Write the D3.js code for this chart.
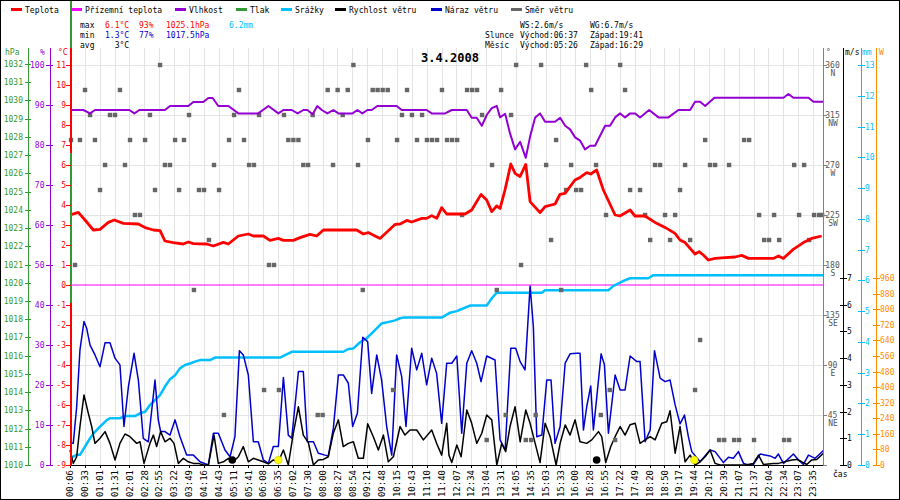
<!DOCTYPE html>
<html>
<head>
<meta charset="utf-8">
<script src="https://cdn.jsdelivr.net/npm/d3@7"></script>
<style>
  body { margin: 0; background: #fff; }
  svg text { font-family: "DejaVu Sans Mono", monospace; font-size: 8px; }
</style>
</head>
<body>
<div id="chart"></div>
<script>
// time labels on the x axis, one per slot (x is sample based, not clock based)
const timeLabels = ['00:06','00:33','01:01','01:31','02:01','02:28','02:55','03:22','03:49','04:16',
  '04:43','05:11','05:41','06:08','06:35','07:02','07:30','08:00','08:27','08:54','09:21','09:48',
  '10:15','10:43','11:10','11:40','12:07','12:34','13:04','13:31','14:05','14:35','15:03','15:33',
  '16:00','16:28','16:55','17:22','17:49','18:20','18:50','19:17','19:44','20:12','20:39','21:07',
  '21:37','22:04','22:34','23:07','23:35'];

// [slot, value]
const temperature = [[0,3.5],[0.56,3.63],[1.01,3.25],[1.57,2.75],[2.02,2.78],[2.58,3.13],[2.98,3.25],
  [3.59,3.08],[4.6,3.05],[5.05,2.87],[5.61,2.75],[6.06,2.72],[6.39,2.2],[6.95,2.12],[7.62,2.05],
  [7.96,2.15],[8.3,2.07],[9.2,2.05],[9.64,1.95],[10.32,2.13],[10.65,2.05],[11.33,2.45],[12,2.55],
  [12.34,2.45],[13.01,2.45],[13.46,2.23],[14.02,2.33],[14.36,2.23],[15.03,2.23],[15.48,2.37],
  [16.15,2.53],[16.6,2.45],[17.05,2.75],[19.29,2.75],[19.74,2.55],[20.07,2.62],[20.86,2.33],
  [21.87,3.03],[22.21,3.05],[22.66,3.23],[22.99,3.15],[23.67,3.33],[24,3.33],[24.34,3.47],
  [24.68,3.33],[25.01,3.87],[25.35,3.55],[26.58,3.55],[27.03,3.75],[27.66,4.53],[28.04,4.25],
  [28.38,3.67],[28.71,3.95],[28.94,3.83],[29.27,4.75],[29.66,6.05],[29.95,5.58],[30.28,5.42],
  [30.67,6.03],[30.96,4.17],[31.63,3.62],[31.97,3.92],[32.64,4.05],[32.97,4.53],[33.31,4.58],
  [33.98,5.25],[34.32,5.38],[34.77,5.62],[35.04,5.55],[35.44,5.75],[35.89,4.75],[36.68,3.5],
  [37.01,3.45],[37.69,3.75],[38.02,3.45],[38.69,3.45],[39.37,3.13],[40.04,2.88],[40.71,2.58],
  [41.05,2.25],[41.39,2.12],[42.06,1.55],[42.33,1.67],[42.62,1.5],[42.95,1.25],[43.41,1.33],
  [44.08,1.37],[44.75,1.4],[45.2,1.48],[45.65,1.33],[47.33,1.33],[47.67,1.45],[48,1.33],
  [48.67,1.78],[49.35,2.12],[49.91,2.33],[50.58,2.45]];

const groundTemp = [[0,0],[50.67,0]];

const humidity = [[0,88.75],[0.9,88.75],[1.35,87.9],[1.68,88.75],[3.99,88.75],[4.33,87.9],[4.67,88.75],
  [6.39,88.75],[6.73,89.75],[7.96,89.75],[8.3,90.75],[8.97,90.75],[9.31,91.75],[9.6,91.75],
  [9.98,89.75],[10.66,89.75],[11.33,87.9],[12.67,87.9],[13.35,89.75],[14.02,87.9],[14.36,88.75],
  [14.92,88.75],[15.32,87.9],[15.7,88.75],[15.97,88.75],[16.33,87.7],[16.64,89.75],[16.94,88.75],
  [17.32,87.9],[17.72,88.75],[18.06,87.9],[19.02,87.9],[19.34,88.75],[19.67,87.9],[20.01,88.75],
  [20.3,88.75],[20.68,89.75],[21.98,89.75],[22.32,88.75],[24,88.75],[24.34,87.9],[25.24,87.9],
  [25.69,88.75],[26.7,88.75],[27.03,86.8],[27.37,86.8],[27.71,84.8],[28.04,87.5],[28.38,89.2],
  [28.72,89.75],[28.94,86.9],[29.28,87.8],[29.61,82.9],[29.95,78.9],[30.29,80.8],[30.67,76.8],
  [30.96,82.1],[31.3,86.9],[31.63,87.9],[31.97,85.8],[32.64,85.8],[32.98,86.8],[33.32,84.8],
  [33.65,83.9],[33.99,81.9],[34.32,81.1],[34.66,78.9],[35,79.8],[35.33,79.8],[36.01,84.8],
  [36.34,84.8],[36.68,86.9],[37.02,87.9],[37.35,86.9],[37.69,87.9],[38.03,87.9],[38.36,86.9],
  [38.97,88.75],[39.6,86.9],[40.27,86.9],[40.94,88.75],[41.73,88.75],[42.06,90.8],[42.4,90.8],
  [42.74,89.75],[43.36,91.8],[48.01,91.8],[48.34,92.75],[48.68,91.8],[49.69,91.8],[50.03,90.8],
  [50.7,90.8]];

const rain = [[0,0.22],[0.45,0.33],[0.67,0.33],[1.01,0.6],[1.35,0.87],[1.68,1.08],[2.02,1.25],
  [2.47,1.46],[2.69,1.52],[3.36,1.52],[3.7,1.59],[4.37,1.59],[4.71,1.68],[5.05,1.73],[5.38,1.95],
  [5.72,2.11],[6.06,2.27],[6.39,2.55],[6.73,2.79],[7.07,2.92],[7.4,3.14],[7.74,3.25],[8.08,3.3],
  [8.41,3.36],[8.75,3.41],[9.42,3.41],[9.76,3.49],[14.13,3.49],[14.47,3.57],[14.92,3.68],
  [18.39,3.68],[18.73,3.77],[19.07,3.79],[19.52,3.99],[19.96,4.12],[20.3,4.28],[20.64,4.44],
  [20.97,4.6],[21.53,4.66],[21.87,4.7],[22.21,4.77],[22.43,4.79],[25.01,4.79],[25.57,4.95],
  [26.03,5],[26.36,5.07],[26.92,5.18],[28.04,5.18],[28.38,5.42],[28.72,5.6],[31.75,5.6],
  [31.97,5.68],[36.23,5.68],[36.57,5.82],[37.35,6.01],[37.69,6.07],[38.92,6.07],[39.26,6.17],
  [50.7,6.17]];

const windGust = [[0,0.85],[0.22,0.81],[0.45,2.18],[0.67,4.31],[0.94,5.37],[1.12,5.12],[1.35,4.49],
  [1.68,4.12],[2.02,3.68],[2.36,4.58],[2.69,4.58],[3.03,4],[3.36,3.75],[3.63,1.44],[3.93,2.93],
  [4.31,4.18],[4.6,3.18],[4.93,1],[5.27,0.87],[5.72,3.18],[5.94,1.69],[6.1,1.25],[6.39,1.25],
  [6.73,1.12],[7.07,1.69],[7.4,1.06],[7.85,0.37],[8.3,0.37],[8.75,0.12],[9.31,0],[9.65,1.19],
  [9.98,1.19],[10.43,0.56],[10.77,0.31],[11.1,1.06],[11.4,4.28],[11.66,4.12],[12,3.37],
  [12.34,0.87],[12.67,0.87],[13.01,0.19],[13.35,0.06],[13.68,0.69],[14.02,0.69],[14.36,3.28],
  [14.69,1.12],[14.92,1],[15.37,3.5],[15.7,3.5],[15.97,0.87],[16.38,0.87],[16.71,0.44],
  [17.16,0.37],[17.38,0.34],[17.72,1.37],[18.06,3.37],[18.39,3.37],[18.73,3.06],[19.02,1.44],
  [19.34,1.94],[19.7,4.78],[20.03,4.62],[20.3,2.68],[20.64,4.12],[20.97,3.18],[21.31,1.44],
  [21.65,0.37],[21.98,4.12],[22.32,3.31],[22.61,1.44],[22.99,4.37],[23.33,3.56],[23.67,4.18],
  [24,3],[24.34,4],[24.67,3.43],[25.01,1.56],[25.35,3.81],[25.69,3.81],[26.03,4.08],[26.36,1.19],
  [26.7,3.81],[27.03,4.28],[27.37,3.81],[27.66,3.12],[28.04,4.08],[28.6,3.93],[28.94,0.94],
  [29.28,0.56],[29.66,4.37],[29.99,4.37],[30.29,3.87],[30.62,3.56],[30.96,6.7],[31.18,5.18],
  [31.41,1.06],[31.75,1.12],[32.08,3.18],[32.37,3.18],[32.64,0.81],[32.98,1.44],[33.32,3.81],
  [33.65,4.16],[34.1,4.18],[34.32,4.18],[34.55,1.31],[34.77,2.18],[35.04,2.96],[35.22,1.31],
  [35.45,2.56],[35.74,4.16],[35.96,3.75],[36.23,1.19],[36.68,3.37],[37.02,2.81],[37.35,2.81],
  [37.69,4.08],[38.14,3.87],[38.36,3.87],[38.7,0.87],[39.04,1.31],[39.33,4.28],[39.71,3.25],
  [40.04,3.12],[40.38,3.18],[40.72,2.25],[41.05,1.54],[41.35,1.87],[41.61,1.06],[41.84,0.5],
  [42.4,0.12],[43.07,0.56],[43.41,0.5],[43.97,0.09],[44.31,0.29],[44.64,0.25],[44.98,0.5],
  [45.32,0.06],[45.65,0],[45.99,0.02],[46.44,0.41],[47.11,0.34],[47.45,0.25],[47.67,0.41],
  [48.01,0.06],[48.68,0.41],[49.02,0.19],[49.35,0.02],[49.69,0.37],[50.14,0.25],[50.7,0.54]];

const windSpeed = [[0,0.56],[0.22,0.06],[0.45,0.31],[0.67,1.44],[0.94,2.62],[1.23,1.94],[1.46,1.44],
  [1.68,0.81],[2.02,1],[2.36,1.25],[2.69,0.81],[3.03,0.19],[3.36,0.81],[3.7,1.16],[4.04,1.06],
  [4.49,0.81],[4.71,0.87],[4.98,0.06],[5.38,0.81],[5.61,1.12],[5.83,0.69],[6.1,1.25],[6.39,0.87],
  [6.73,1],[7,0.81],[7.29,0.06],[7.63,0.25],[7.96,0.12],[8.3,0.06],[8.64,0.06],[8.97,0],[9.31,0],
  [9.69,1.12],[9.98,0.06],[10.32,0.12],[10.66,0.25],[10.99,0.12],[11.33,0.31],[11.66,0.69],
  [12,0.12],[12.34,0.25],[12.67,0.19],[13.01,0.12],[13.35,0.04],[13.68,0.19],[14.02,0.12],
  [14.36,0.56],[14.69,0],[15.03,1.19],[15.37,2.18],[15.7,1.12],[16.04,0.84],[16.38,0],[16.71,0.19],
  [17.05,0.21],[17.38,0.31],[17.72,1.19],[18.06,1.69],[18.39,0.69],[18.73,0.81],[19.07,0.87],
  [19.4,0.25],[19.74,0.25],[20.03,1.54],[20.41,1.06],[20.75,0.56],[21.09,1.12],[21.42,0.12],
  [21.76,0.31],[22.21,1.44],[22.54,1.12],[22.88,1.31],[23.33,1.31],[23.78,0.94],[24.34,1.31],
  [24.67,0.81],[25.01,0.37],[25.35,1.56],[25.5,0.37],[25.69,0.09],[26.03,0.75],[26.32,0.31],
  [26.7,2.06],[27.03,1.56],[27.37,0.81],[27.71,1.19],[28.04,1.87],[28.38,1.69],[28.72,0],
  [29.05,0.81],[29.32,0.5],[29.61,1.44],[29.95,2.18],[30.29,0.87],[30.67,2.06],[30.96,1.56],
  [31.3,0.81],[31.63,0.09],[31.97,1.56],[32.31,1.06],[32.71,0],[32.98,0.81],[33.32,1.5],
  [33.65,1.12],[33.99,1.69],[34.32,0.87],[34.77,0.81],[35.11,0.94],[35.56,1.25],[35.78,1.06],
  [36.05,0.09],[36.39,0.69],[36.68,1.06],[37.02,1.44],[37.35,1.12],[37.69,1.51],[38.03,1.56],
  [38.36,0.81],[38.7,0.94],[39.04,1.06],[39.37,0.94],[39.82,1.56],[40.16,1.62],[40.38,2.03],
  [40.72,0.44],[41.05,1.44],[41.39,0.12],[41.73,0.37],[42.06,0],[42.4,0.12],[42.74,0.31],
  [43.07,0.56],[43.41,0.06],[43.75,0],[45.43,0],[45.99,0.06],[46.33,0.37],[46.66,0.02],
  [47.33,0.06],[47.67,0.06],[48.57,0.19],[48.91,0.21],[49.24,0.12],[49.58,0.02],[49.91,0.19],
  [50.25,0.21],[50.7,0.44]];

// wind direction: [degrees, slots where it was observed]
const windDir = [
  [360, [6.06,19.07,30.02,31.7,34.73,37.02]],
  [337.5, [1.01,3.36,11.37,17.34,18.01,18.69,20.37,20.7,21.04,21.38,22.68,25.03,26.72,27.06,27.39,29.01,35.07,37.35]],
  [315, [1.35,2.69,3.03,5.38,8.01,11.04,12.72,14.4,16.33,18.35,22.34,23.01,23.69,27.73,29.68]],
  [292.5, [0.07,0.67,1.68,4.04,5.05,7.07,7.67,10.7,11.71,14.69,15.03,15.37,20.05,22.01,23.35,24.02,24.36,24.7,25.37,25.71,26.05,32.71,42.74,45.36,45.7]],
  [270, [2.36,3.7,6.39,6.73,9.69,12.05,12.38,15.7,16.02,17.7,19.38,28.4,32.04,33.72,35.4,39.37,39.71,41.39,43.07,43.41,44.35,48.73,49.4]],
  [247.5, [2.02,5.72,7.34,8.68,9.02,10.03,33.38,34.06,34.39,37.69,38.36,41.05]],
  [225, [4.37,4.71,26.38,36.07,38.7,40.04,40.72,46.37,47.38,49.06,50.07,50.41,50.61]],
  [202.5, [9.35,32.37,39.04,40.38,41.73,46.71,47.04,47.72,49.74]],
  [180, [0.34,13.39,13.73,30.35]],
  [157.5, [8.34,19.7,28.72,33.05]],
  [112.5, [42.4]],
  [67.5, [13.06,14.06,21.74,36.32,42.06]],
  [45, [10.36,16.67,17,29.32,31.34,35.72]],
  [22.5, [28.04,30.67,31.03,36.68,43.68,44.02,44.69,45.02,46.03,48.05,48.39]]
];

const moonEvents = [10.92, 35.44];
const sunEvents = [14.02, 42.01];

const legendNames = ['Teplota','Přízemní teplota','Vlhkost','Tlak','Srážky','Rychlost větru','Náraz větru','Směr větru'];
const statsMax = ['6.1°C','93%','1025.1hPa','6.2mm'];
const statsMin = ['1.3°C','77%','1017.5hPa'];
const statsAvg = ['  3°C'];
const sunMoonRows = [['','WS:2.6m/s','WG:6.7m/s'],['Slunce','Východ:06:37','Západ:19:41'],['Měsíc','Východ:05:26','Západ:16:29']];
const chartTitle = '3.4.2008';

const hpaTicks = d3.range(1010, 1033);
const humTicks = d3.range(0, 101, 10);
const tempTicks = d3.range(-9, 12);
const dirTicks = [45, 90, 135, 180, 225, 270, 315, 360];
const dirNames = ['NE','E','SE','S','SW','W','NW','N'];
const msTicks = d3.range(0, 8);
const mmTicks = d3.range(0, 14);
const wTicks = d3.range(0, 961, 80);

// ---------------------------------------------------------------
const C = {temp:'#ff0000', ground:'#ff00ff', hum:'#9400d3', press:'#339933', rain:'#00bfff',
  wind:'#000000', gust:'#0000cc', dir:'#666666', solar:'#ff8c00', grid:'#e4e4e4'};
const pTop = 48, pBottom = 465, pLeft = 70, pRight = 823;

const x = d3.scaleLinear().domain([0, 50.67]).range([pLeft, pRight]);
const yT = d3.scaleLinear().domain([-9, 11]).range([465, 65]);
const yP = d3.scaleLinear().domain([1010, 1032]).range([465, 64]);
const yH = d3.scaleLinear().domain([0, 100]).range([465, 65]);
const yD = d3.scaleLinear().domain([0, 360]).range([465, 65]);
const yW = d3.scaleLinear().domain([0, 7]).range([465, 278]);
const yM = d3.scaleLinear().domain([0, 13]).range([465, 65]);
const yS = d3.scaleLinear().domain([0, 960]).range([465, 278]);

const svg = d3.select('#chart').append('svg').attr('width', 900).attr('height', 500);
svg.append('rect').attr('x', 0.5).attr('y', 0.5).attr('width', 899).attr('height', 499)
  .attr('fill', '#fff').attr('stroke', '#000');

// grid
const grid = svg.append('g').attr('shape-rendering', 'crispEdges').attr('stroke', C.grid);
grid.selectAll('.vg').data(timeLabels).join('line')
  .attr('x1', (d, i) => Math.round(x(i)) + 0.5).attr('x2', (d, i) => Math.round(x(i)) + 0.5)
  .attr('y1', pTop).attr('y2', pBottom);
grid.selectAll('.hg').data(dirTicks).join('line')
  .attr('x1', pLeft).attr('x2', pRight)
  .attr('y1', d => Math.round(yD(d)) + 0.5).attr('y2', d => Math.round(yD(d)) + 0.5);

// series
const line = (ys) => d3.line().x(d => x(d[0])).y(d => ys(d[1]));
function drawLine(data, ys, color, width) {
  svg.append('path').datum(data).attr('fill', 'none').attr('stroke', color)
    .attr('stroke-width', width).attr('stroke-linejoin', 'round').attr('d', line(ys));
}
drawLine(groundTemp, yT, C.ground, 1.2);
drawLine(rain, yM, C.rain, 2.5);
drawLine(windGust, yW, C.gust, 1.5);
drawLine(windSpeed, yW, C.wind, 1.5);

const dirPoints = windDir.flatMap(([deg, slots]) => slots.map(s => [s, deg]));
svg.append('g').selectAll('rect').data(dirPoints).join('rect')
  .attr('x', d => x(d[0]) - 2.2).attr('y', d => yD(d[1]) - 2.2)
  .attr('width', 4.4).attr('height', 4.4).attr('fill', C.dir);

drawLine(humidity, yH, C.hum, 2);
drawLine(temperature, yT, C.temp, 2.8);

svg.append('g').selectAll('circle').data(moonEvents).join('circle')
  .attr('cx', d => x(d)).attr('cy', 460).attr('r', 3.8).attr('fill', '#000');
svg.append('g').selectAll('circle').data(sunEvents).join('circle')
  .attr('cx', d => x(d)).attr('cy', 460).attr('r', 3.8).attr('fill', '#ffff00')
  .attr('stroke', '#c8c800').attr('stroke-width', 0.6);

// bottom axis
svg.append('line').attr('x1', pLeft).attr('x2', pRight).attr('y1', pBottom + 0.5).attr('y2', pBottom + 0.5)
  .attr('stroke', '#000').attr('shape-rendering', 'crispEdges');
const xt = svg.append('g');
xt.selectAll('line').data(timeLabels).join('line')
  .attr('x1', (d, i) => Math.round(x(i)) + 0.5).attr('x2', (d, i) => Math.round(x(i)) + 0.5)
  .attr('y1', pBottom).attr('y2', pBottom + 3).attr('stroke', '#000').attr('shape-rendering', 'crispEdges');
xt.selectAll('text').data(timeLabels).join('text')
  .attr('transform', (d, i) => `translate(${x(i) + 3.2},${pBottom + 5}) rotate(-90)`)
  .attr('text-anchor', 'end').style('font-size', '9px').text(d => d);

// vertical axes
function vAxis(ys, ticks, ax, t1, t2, color, y1, y2) {
  const g = svg.append('g').attr('shape-rendering', 'crispEdges');
  g.append('line').attr('x1', ax + 0.5).attr('x2', ax + 0.5).attr('y1', y1).attr('y2', y2).attr('stroke', color);
  g.selectAll('.tk').data(ticks).join('line')
    .attr('x1', t1).attr('x2', t2)
    .attr('y1', d => Math.round(ys(d)) + 0.5).attr('y2', d => Math.round(ys(d)) + 0.5)
    .attr('stroke', color);
  return g;
}
function labels(ys, ticks, lx, anchor, color, fmt) {
  svg.append('g').selectAll('text').data(ticks).join('text')
    .attr('x', lx).attr('y', d => ys(d) + 3).attr('text-anchor', anchor)
    .attr('fill', color).text(fmt || (d => d));
}

vAxis(yP, hpaTicks, 28, 25, 31, C.press, pTop, pBottom);
labels(yP, hpaTicks, 23, 'end', C.press);
vAxis(yH, humTicks, 50, 46, 53, C.hum, pTop, pBottom);
labels(yH, humTicks, 44.5, 'end', C.hum);

// °C axis: the red line is partly covered by the green frame line
const ta = svg.append('g').attr('shape-rendering', 'crispEdges');
ta.append('line').attr('x1', 71).attr('x2', 71).attr('y1', 1).attr('y2', pBottom).attr('stroke', C.press).attr('stroke-width', 1.5);
[[pTop, 153], [303, pBottom]].forEach(([a, b]) => {
  ta.append('line').attr('x1', 70.5).attr('x2', 70.5).attr('y1', a).attr('y2', b).attr('stroke', C.temp).attr('stroke-width', 2);
});
ta.selectAll('.tk').data(tempTicks).join('line')
  .attr('x1', 66).attr('x2', 71)
  .attr('y1', d => Math.round(yT(d)) + 0.5).attr('y2', d => Math.round(yT(d)) + 0.5).attr('stroke', C.temp);
labels(yT, tempTicks, 66, 'end', C.temp);

// right axes
vAxis(yD, [0].concat(dirTicks), pRight, pRight, pRight + 4, '#808080', pTop, pBottom);
labels(yD, dirTicks, 832.5, 'middle', '#555');
svg.append('g').selectAll('text').data(dirTicks).join('text')
  .attr('x', 833).attr('y', d => yD(d) + 11).attr('text-anchor', 'middle').attr('fill', '#555')
  .text((d, i) => dirNames[i]);

vAxis(yW, msTicks, 843, 840, 847, '#000', pTop, pBottom);
labels(yW, msTicks, 847, 'start', '#000');
vAxis(yM, mmTicks, 861, 858, 865, C.rain, pTop, pBottom);
labels(yM, mmTicks, 865, 'start', C.rain);
vAxis(yS, wTicks, 876, 873, 880, C.solar, pTop, pBottom);
labels(yS, wTicks, 880, 'start', C.solar);

// axis headers
const hdr = [['hPa', 5, C.press], ['%', 40, C.hum], ['°C', 58, C.temp], ['°', 826, '#555'],
  ['m/s', 845, '#000'], ['mm', 862, C.rain], ['W', 879, C.solar]];
svg.append('g').selectAll('text').data(hdr).join('text')
  .attr('x', d => d[1]).attr('y', 55).attr('fill', d => d[2]).text(d => d[0]);
svg.append('text').attr('x', 833).attr('y', 477).text('čas');

// legend
const legendColors = [C.temp, C.ground, C.hum, C.press, C.rain, C.wind, C.gust, C.dir];
const legendX = [25, 85, 189, 250, 295, 349, 445, 525];
const lg = svg.append('g');
legendNames.forEach((n, i) => {
  lg.append('rect').attr('x', legendX[i] - 14).attr('y', 8).attr('width', 11).attr('height', 3)
    .attr('fill', legendColors[i]);
  lg.append('text').attr('x', legendX[i]).attr('y', 12.5).text(n);
});

// stats block
const st = svg.append('g').style('white-space', 'pre');
const colX = [105, 139, 166, 229];
st.append('text').attr('x', 80).attr('y', 27.5).text('max');
st.append('text').attr('x', 80).attr('y', 37.5).text('min');
st.append('text').attr('x', 80).attr('y', 47.5).text('avg');
statsMax.forEach((s, i) => st.append('text').attr('x', colX[i]).attr('y', 27.5)
  .attr('fill', i === 3 ? C.rain : '#ff0000').text(s));
statsMin.forEach((s, i) => st.append('text').attr('x', colX[i]).attr('y', 37.5)
  .attr('fill', '#0000cc').text(s));
statsAvg.forEach((s, i) => st.append('text').attr('x', colX[i]).attr('y', 47.5)
  .attr('xml:space', 'preserve').text(s));

const smX = [485, 520, 590];
sunMoonRows.forEach((row, r) => row.forEach((s, c) => {
  st.append('text').attr('x', smX[c]).attr('y', 27.5 + r * 10).text(s);
}));

svg.append('text').attr('x', 450).attr('y', 62).attr('text-anchor', 'middle')
  .style('font-size', '12px').style('font-weight', 'bold').text(chartTitle);
</script>
</body>
</html>
